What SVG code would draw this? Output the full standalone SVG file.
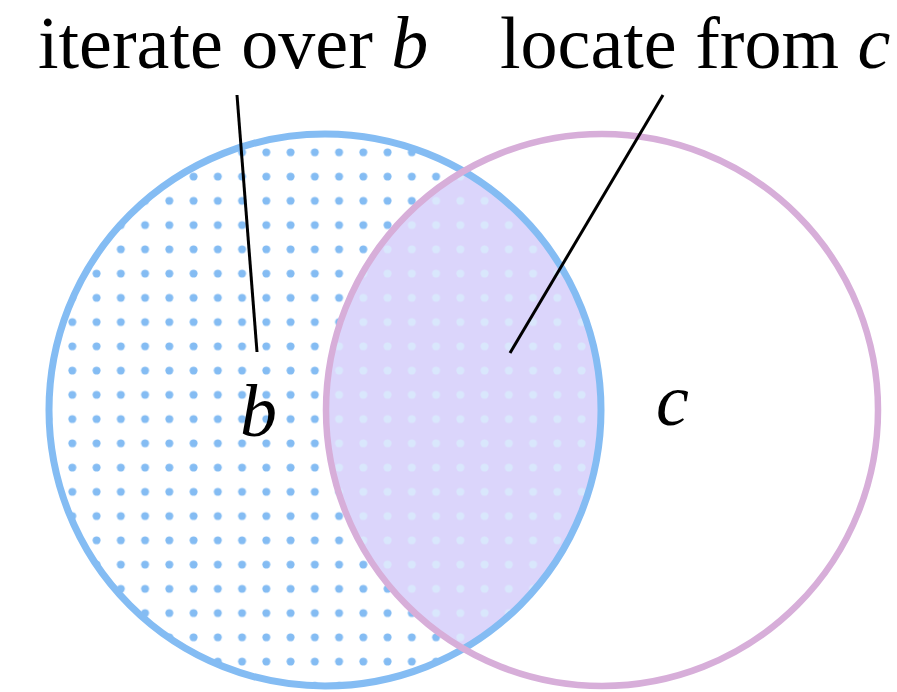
<svg xmlns="http://www.w3.org/2000/svg" width="897" height="692" viewBox="0 0 897 692">
  <style>
    .lbl { font-family: "Liberation Serif", "Times New Roman", serif; font-size: 74px; fill: #000; }
    .it { font-style: italic; }
    .conn { stroke: #000; stroke-width: 3; fill: none; }
  </style>
  <defs>
    <pattern id="dots" patternUnits="userSpaceOnUse" x="60.2" y="140.2" width="24.25" height="24.25">
      <circle cx="12.125" cy="12.125" r="4" fill="#84bcf3"/>
    </pattern>
    <pattern id="lightdots" patternUnits="userSpaceOnUse" x="60.2" y="140.2" width="24.25" height="24.25">
      <circle cx="12.125" cy="12.125" r="4" fill="#d9e7fc"/>
    </pattern>
  </defs>
  <rect width="897" height="692" fill="#fff"/>
  <g id="set-b-fill">
    <circle cx="325" cy="410" r="276" fill="url(#dots)"/>
  </g>
  <g id="intersection">
    <path d="M463.5 171.3 A276 276 0 0 1 463.5 648.7 A276 276 0 0 1 463.5 171.3 Z" fill="#dbd5fb"/>
    <path d="M463.5 171.3 A276 276 0 0 1 463.5 648.7 A276 276 0 0 1 463.5 171.3 Z" fill="url(#lightdots)"/>
  </g>
  <g id="set-b">
    <circle cx="325" cy="410" r="276" fill="none" stroke="#84bcf3" stroke-width="7"/>
    <text class="lbl it" x="240" y="436">b</text>
  </g>
  <g id="set-c">
    <circle cx="602" cy="410" r="276" fill="none" stroke="#d7aed9" stroke-width="6.5"/>
    <text class="lbl it" x="656" y="425">c</text>
  </g>
  <g id="connectors">
    <line class="conn" x1="237" y1="95" x2="257" y2="352"/>
    <line class="conn" x1="663" y1="95" x2="510" y2="353"/>
  </g>
  <g id="label-iterate">
    <text class="lbl" x="38" y="68">iterate over <tspan class="it">b</tspan></text>
  </g>
  <g id="label-locate">
    <text class="lbl" x="500" y="68">locate from <tspan class="it">c</tspan></text>
  </g>
</svg>
